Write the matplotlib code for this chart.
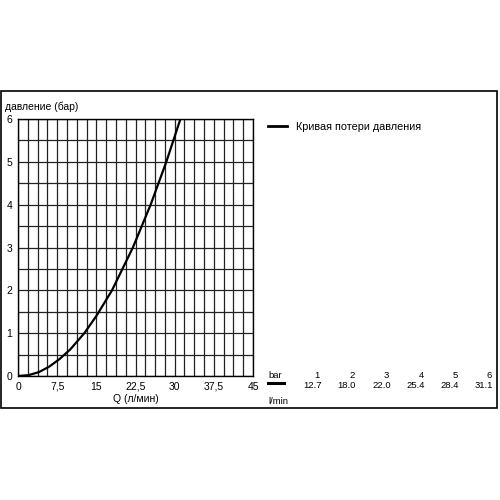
import matplotlib
matplotlib.use("Agg")
import matplotlib.pyplot as plt
import numpy as np
from matplotlib.patches import Rectangle
from matplotlib.lines import Line2D

plt.rcParams["font.family"] = ["Liberation Sans", "DejaVu Sans"]

# --- data ---
flow = [0, 2, 4, 6, 8, 10, 12.7, 15, 18.0, 22.0, 25.4, 28.4, 31.1, 31.6]
pressure = [0, 0.02, 0.09, 0.22, 0.40, 0.62, 1.0, 1.4, 2.0, 3.0, 4.0, 5.0, 6.0, 6.2]

x_ticks = [0, 7.5, 15, 22.5, 30, 37.5, 45]
x_tick_labels = ["0", "7,5", "15", "22,5", "30", "37,5", "45"]
y_ticks = [0, 1, 2, 3, 4, 5, 6]

table_bar = ["1", "2", "3", "4", "5", "6"]
table_lmin = ["12.7", "18.0", "22.0", "25.4", "28.4", "31.1"]

W, H = 500, 500
fig = plt.figure(figsize=(5, 5), dpi=100)


def fx(px):
    return px / W


def fy(py):
    return 1 - py / H


# outer frame
fig.patches.append(Rectangle((fx(1), fy(408)), fx(497) - fx(1), fy(91) - fy(408),
                             transform=fig.transFigure, fill=False, lw=1.2,
                             edgecolor="black"))

ax = fig.add_axes([fx(18), fy(376), fx(253) - fx(18), fy(119) - fy(376)])
ax.set_xlim(0, 45)
ax.set_ylim(0, 6)

# grid
for gx in np.arange(0, 45.01, 1.875):
    ax.axvline(gx, color="#222222", lw=0.9, zorder=1)
for gy in np.arange(0, 6.01, 0.5):
    ax.axhline(gy, color="#222222", lw=0.9, zorder=1)

ax.plot(flow, pressure, color="black", lw=1.6, zorder=3, clip_on=True)

ax.set_xticks(x_ticks)
ax.set_xticklabels(x_tick_labels)
ax.set_yticks(y_ticks)
ax.tick_params(length=0, labelsize=7.5, pad=4)
for s in ax.spines.values():
    s.set_color("black")
    s.set_linewidth(1)

fig.text(fx(5), fy(107), "давление (бар)", fontsize=7.5, ha="left", va="center")
fig.text(fx(136), fy(399), "Q (л/мин)", fontsize=7.5, ha="center", va="center")

# legend
fig.add_artist(Line2D([fx(268), fx(287)], [fy(126), fy(126)], color="black", lw=2))
fig.text(fx(296), fy(127), "Кривая потери давления", fontsize=7.8, ha="left", va="center")

# small table
fs = 6.8
fig.text(fx(268), fy(376), "bar", fontsize=fs, ha="left", va="center")
fig.add_artist(Line2D([fx(268), fx(284)], [fy(383), fy(383)], color="black", lw=2.2))
fig.text(fx(268), fy(402), "l/min", fontsize=fs, ha="left", va="center")
right_edges_top = [320, 355, 389, 424, 458, 492]
right_edges_bottom = [322, 356, 391, 425, 459, 493]
for lab, r in zip(table_bar, right_edges_top):
    fig.text(fx(r), fy(376), lab, fontsize=fs, ha="right", va="center")
for lab, r in zip(table_lmin, right_edges_bottom):
    fig.text(fx(r), fy(386), lab, fontsize=fs, ha="right", va="center")

fig.savefig("out.png", dpi=100)
